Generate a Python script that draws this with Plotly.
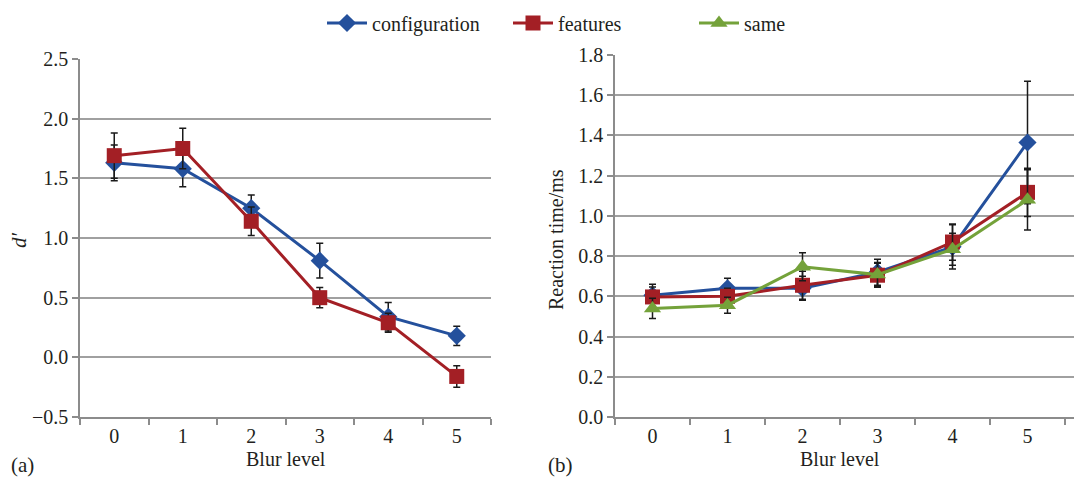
import plotly.graph_objects as go

blur_levels = ["0", "1", "2", "3", "4", "5"]

# Panel (a): d'
dprime_configuration = [1.63, 1.58, 1.25, 0.81, 0.34, 0.18]
dprime_configuration_err = [0.15, 0.15, 0.11, 0.145, 0.12, 0.08]
dprime_features = [1.69, 1.75, 1.14, 0.50, 0.29, -0.16]
dprime_features_err = [0.19, 0.17, 0.12, 0.085, 0.08, 0.09]

# Panel (b): reaction time
rt_configuration = [0.605, 0.64, 0.64, 0.72, 0.846, 1.365]
rt_configuration_err = [0.055, 0.05, 0.06, 0.065, 0.11, 0.305]
rt_features = [0.597, 0.60, 0.655, 0.705, 0.87, 1.117]
rt_features_err = [0.05, 0.04, 0.07, 0.06, 0.09, 0.12]
rt_same = [0.54, 0.556, 0.747, 0.708, 0.834, 1.08]
rt_same_err = [0.05, 0.04, 0.07, 0.06, 0.08, 0.15]

series_names = ["configuration", "features", "same"]
colors = ["#24509c", "#a31f25", "#74a23a"]
symbols = ["diamond", "square", "triangle-up"]
sizes = [14, 15, 15]

# page body has an 8px margin; work in window pixels and convert
OFF = 8
W, H = 1082 - OFF, 479 - OFF


def px(x):
    return (x - OFF) / W


def py(y):
    return 1 - (y - OFF) / H


FONT = "Liberation Serif"
TXT = "#231f20"

fig = go.Figure()


def add(x, y, err, i, xa, ya, show):
    fig.add_trace(go.Scatter(
        x=x, y=y, name=series_names[i], mode="lines+markers",
        line=dict(color=colors[i], width=3),
        marker=dict(symbol=symbols[i], size=sizes[i], color=colors[i]),
        error_y=dict(type="data", array=err, visible=True, color="#1a1a1a",
                     thickness=1.5, width=3.5),
        xaxis=xa, yaxis=ya, showlegend=show, cliponaxis=False,
    ))


add(blur_levels, dprime_configuration, dprime_configuration_err, 0, "x", "y", False)
add(blur_levels, dprime_features, dprime_features_err, 1, "x", "y", False)
add(blur_levels, rt_configuration, rt_configuration_err, 0, "x2", "y2", True)
add(blur_levels, rt_features, rt_features_err, 1, "x2", "y2", True)
add(blur_levels, rt_same, rt_same_err, 2, "x2", "y2", True)

grid = "#a0a0a0"
axline = "#8c8c8c"
tickfont = dict(family=FONT, size=20, color=TXT)

xcommon = dict(type="category", tickson="boundaries", ticks="outside", ticklen=6,
               tickcolor=axline, tickwidth=1.5, showline=True, linecolor=axline,
               linewidth=1.5, showgrid=False, tickfont=tickfont, zeroline=False,
               automargin=False)
ycommon = dict(ticks="outside", ticklen=6, tickcolor=axline, tickwidth=1.5,
               showline=True, linecolor=axline, linewidth=1.5, showgrid=True,
               gridcolor=grid, gridwidth=1.5, zeroline=False, tickfont=tickfont,
               tickformat=".1f", automargin=False)

fig.update_layout(
    width=W, height=H,
    margin=dict(l=0, r=0, t=0, b=0, autoexpand=False),
    paper_bgcolor="white", plot_bgcolor="white",
    font=dict(family=FONT, size=20, color=TXT),
    xaxis=dict(domain=[px(80), px(491)], range=[-0.5, 5.5], anchor="y", **xcommon),
    yaxis=dict(domain=[py(417), py(59)], range=[-0.5, 2.5], dtick=0.5,
               anchor="x", **ycommon),
    xaxis2=dict(domain=[px(615), 1.0], range=[-0.5, (1082 - 615) / 75 - 0.5],
                anchor="y2", **xcommon),
    yaxis2=dict(domain=[py(417), py(55)], range=[0, 1.8], dtick=0.2,
                anchor="x2", **ycommon),
    legend=dict(orientation="h", x=px(322), y=py(23), xanchor="left",
                yanchor="middle", font=dict(family=FONT, size=20, color=TXT),
                itemwidth=40, entrywidth=131, bgcolor="rgba(0,0,0,0)",
                tracegroupgap=0),
    showlegend=True,
)

ann = [
    dict(text="<i>d′</i>", x=19, y=240, textangle=-90, size=21),
    dict(text="Reaction time/ms", x=556, y=240, textangle=-90, size=20),
    dict(text="Blur level", x=286, y=459, textangle=0, size=20),
    dict(text="Blur level", x=840, y=459, textangle=0, size=20),
    dict(text="(a)", x=23, y=465, textangle=0, size=21),
    dict(text="(b)", x=560, y=465, textangle=0, size=21),
]
for a in ann:
    fig.add_annotation(text=a["text"], x=px(a["x"]), y=py(a["y"]), xref="paper",
                       yref="paper", xanchor="center", yanchor="middle",
                       showarrow=False, textangle=a["textangle"],
                       font=dict(family=FONT, size=a["size"], color=TXT))

fig.write_html("out.html")
